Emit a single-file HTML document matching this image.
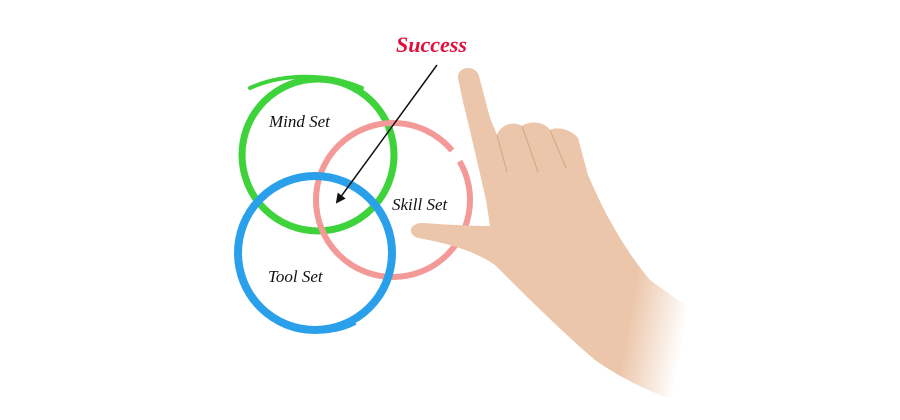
<!DOCTYPE html>
<html><head><style>
html,body{margin:0;padding:0;background:#fff;}
svg{display:block}
text{font-family:"Liberation Serif",serif;font-style:italic;}
</style></head><body>
<svg width="900" height="420" viewBox="0 0 900 420" xmlns="http://www.w3.org/2000/svg">
<defs>
<linearGradient id="fade" x1="0" y1="0" x2="1" y2="0.2">
<stop offset="0.82" stop-color="#ecc6aa"/>
<stop offset="1" stop-color="#ecc6aa" stop-opacity="0"/>
</linearGradient>
<marker id="ah" markerWidth="10" markerHeight="10" refX="8" refY="5" orient="auto" markerUnits="userSpaceOnUse">
<path d="M0,0 L10,5 L0,10 z" fill="#111"/>
</marker>
</defs>
<rect width="900" height="420" fill="#fff"/>
<!-- green -->
<circle cx="318" cy="155" r="76" fill="none" stroke="#3ed33b" stroke-width="7"/>
<path d="M250,88 C285,72 330,74 362,88" fill="none" stroke="#3ed33b" stroke-width="4" stroke-linecap="round"/>
<!-- pink -->
<circle cx="393" cy="200" r="77" fill="none" stroke="#f39a98" stroke-width="6" stroke-dasharray="430 13 41"/>
<!-- blue -->
<circle cx="315" cy="253" r="77" fill="none" stroke="#2aa0ea" stroke-width="8"/>
<path d="M300,328 C320,333 340,330 355,322" fill="none" stroke="#2aa0ea" stroke-width="6"/>
<!-- arrow -->
<line x1="437" y1="65" x2="337" y2="202" stroke="#111" stroke-width="1.5" marker-end="url(#ah)"/>
<!-- labels -->
<text x="396" y="52" font-size="22" fill="#e0103c" font-weight="bold">Success</text>
<text x="269" y="127" font-size="17" fill="#111">Mind Set</text>
<text x="392" y="210" font-size="17" fill="#111">Skill Set</text>
<text x="268" y="282" font-size="17" fill="#111">Tool Set</text>
<!-- hand -->
<path d="M458,78 C457,66 476,64 479,76 L490,118 L497,135 C500,126 512,120 522,126 C530,120 545,122 550,130 C558,126 572,130 578,138 L588,175 C605,215 625,250 650,280 L720,330 L705,410 C670,400 630,385 595,360 C560,330 525,295 495,265 C470,248 440,242 418,238 C406,234 410,222 424,223 C450,225 475,226 490,226 L486,200 C478,165 470,130 463,102 Z" fill="url(#fade)"/>
<path d="M497,135 L507,172 M522,126 L538,172 M550,130 L566,168" stroke="#d7a98b" stroke-width="1.2" fill="none"/>
</svg>
</body></html>
